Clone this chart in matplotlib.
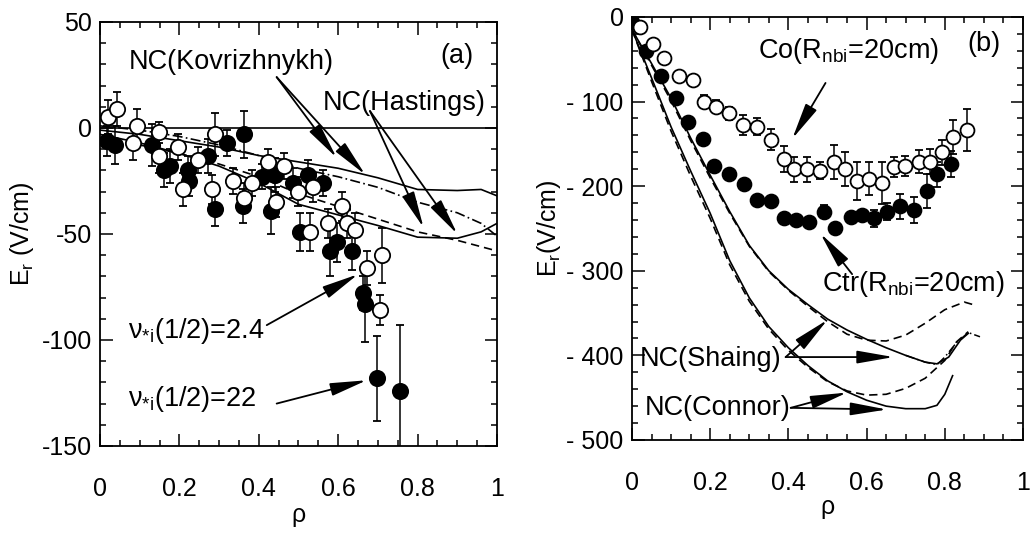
import matplotlib
matplotlib.use("Agg")
import matplotlib.pyplot as plt
from matplotlib.ticker import MultipleLocator

plt.rcParams["font.family"] = ["Liberation Sans", "DejaVu Sans"]
plt.rcParams["mathtext.fontset"] = "custom"
plt.rcParams["mathtext.rm"] = "Liberation Sans"
plt.rcParams["mathtext.it"] = "Liberation Sans:italic"
plt.rcParams["axes.unicode_minus"] = False

# panel (a): Er profiles, two collisionalities
a_open_x = [0.021, 0.042, 0.084, 0.094, 0.148, 0.149, 0.197, 0.21, 0.246, 0.283, 0.29,
            0.336, 0.364, 0.382, 0.424, 0.443, 0.464, 0.5, 0.529, 0.537, 0.575, 0.609,
            0.621, 0.642, 0.672, 0.705, 0.71]
a_open_y = [5, 9, -7, 1, -13, -2, -9, -29, -15, -29, -3, -25, -33, -26, -16, -35, -18,
            -30, -49, -28, -45, -37, -45, -48, -66, -86, -60]
a_open_err = [8, 8, 8, 8, 8, 5, 6, 8, 6, 7, 10, 6, 7, 6, 6, 7, 6, 7, 9, 7, 7, 7, 7, 8,
              8, 7, 13]

a_full_x = [0.017, 0.038, 0.13, 0.16, 0.176, 0.222, 0.225, 0.273, 0.29, 0.319, 0.364,
            0.361, 0.407, 0.432, 0.44, 0.487, 0.525, 0.562, 0.504, 0.58, 0.596, 0.634,
            0.663, 0.668, 0.697, 0.756]
a_full_y = [-6, -8, -8, -20, -18, -20, -25, -13, -38, -7, -3, -37, -23, -39, -22, -26,
            -22, -26, -49, -58, -54, -58, -78, -83, -118, -124]
a_full_err = [7, 9, 10, 8, 8, 7, 7, 8, 8, 6, 11, 8, 6, 11, 8, 7, 7, 6, 9, 12, 9, 9, 8,
              18, 20, 31]

a_nc_x = [0, 0.1, 0.2, 0.3, 0.4, 0.5, 0.6, 0.7, 0.8, 0.9, 0.96, 1.0]
kov_solid = [-1, -3, -6, -9, -13, -16, -19, -23.5, -29, -29.5, -29, -32]
kov_dashdot = [1, -1, -4, -8, -13, -19, -23, -28, -35, -40, -45, -51]
has_solid = [-3, -7, -12, -18, -26, -36, -41, -46, -51.5, -52, -49, -45]
has_dashed = [-5, -8, -12, -17, -23, -31, -37, -43, -49, -53, -56, -58]

# panel (b): Co / Ctr injection
b_open_x = [0.02, 0.053, 0.083, 0.121, 0.155, 0.185, 0.216, 0.249, 0.283, 0.321, 0.355,
            0.389, 0.414, 0.448, 0.482, 0.516, 0.546, 0.576, 0.605, 0.639, 0.669, 0.699,
            0.733, 0.762, 0.792, 0.822, 0.856]
b_open_y = [-12, -32, -48, -70, -75, -100, -106, -114, -128, -130, -145, -168, -180,
            -180, -182, -171, -180, -194, -191, -196, -177, -176, -171, -171, -160, -142,
            -134]
b_open_err = [0, 0, 0, 4, 5, 8, 8, 8, 12, 10, 12, 15, 15, 15, 10, 20, 20, 22, 20, 25,
              12, 12, 14, 15, 15, 20, 25]

b_full_x = [0.0, 0.037, 0.075, 0.113, 0.143, 0.181, 0.211, 0.249, 0.287, 0.321, 0.355,
            0.389, 0.419, 0.452, 0.491, 0.52, 0.559, 0.588, 0.618, 0.652, 0.686, 0.72,
            0.754, 0.779, 0.817]
b_full_y = [-6, -40, -70, -96, -124, -144, -176, -186, -198, -216, -218, -238, -240,
            -242, -230, -250, -236, -234, -238, -230, -224, -228, -206, -186, -174]
b_full_err = [0, 0, 0, 0, 0, 0, 0, 0, 0, 0, 0, 0, 0, 0, 8, 0, 0, 0, 10, 10, 15, 15, 20,
              15, 15]

sh_x = [0, 0.05, 0.1, 0.15, 0.2, 0.25, 0.3, 0.35, 0.4, 0.45, 0.5, 0.55, 0.6, 0.65, 0.7,
        0.75, 0.78, 0.81, 0.84, 0.86]
sh_solid = [-15, -55, -96, -143, -187, -230, -270, -300, -322, -340, -357, -370, -381,
            -391, -400, -408, -410, -402, -382, -374]
sh_dash_x = [0, 0.05, 0.1, 0.15, 0.2, 0.25, 0.3, 0.35, 0.4, 0.45, 0.5, 0.55, 0.6, 0.65,
             0.7, 0.75, 0.8, 0.85, 0.88]
sh_dash = [-15, -57, -99, -146, -190, -232, -271, -301, -323, -342, -360, -375, -382,
           -383, -376, -362, -346, -337, -341]
sh_dd_x = [0.7, 0.75, 0.78, 0.8, 0.83, 0.86, 0.89]
sh_dd = [-400, -408, -411, -402, -385, -373, -378]

co_x = [0, 0.05, 0.1, 0.15, 0.2, 0.25, 0.3, 0.35, 0.4, 0.45, 0.5, 0.55, 0.6, 0.65, 0.7,
        0.75, 0.78, 0.8, 0.82]
co_solid = [-15, -72, -130, -182, -232, -288, -332, -366, -391, -412, -430, -443, -453,
            -460, -463, -463, -459, -446, -424]
co_dash_x = [0, 0.05, 0.1, 0.15, 0.2, 0.25, 0.3, 0.35, 0.4, 0.45, 0.5, 0.55, 0.6, 0.65,
             0.7, 0.75, 0.8, 0.83, 0.86]
co_dash = [-15, -76, -135, -188, -238, -293, -336, -369, -394, -414, -431, -442, -447,
           -446, -439, -427, -406, -384, -372]

fig = plt.figure(figsize=(10.35, 5.35), dpi=100)
ax1 = fig.add_axes([0.0966, 0.1664, 0.3836, 0.7925])
ax2 = fig.add_axes([0.6106, 0.1776, 0.3778, 0.7907])

FS = 19.5   # annotations
TS = 18     # tick labels
mk = dict(ms=11, mec="k", mew=1.3, ls="none", ecolor="k", elinewidth=1.1, capsize=3)


def style(ax):
    ax.tick_params(which="both", direction="in", top=True, right=True, labelsize=TS,
                   width=1.1)
    ax.tick_params(which="major", length=9)
    ax.tick_params(which="minor", length=4.5)
    ax.tick_params(axis="x", which="major", pad=22)
    ax.tick_params(axis="y", which="major", pad=6)
    for s in ax.spines.values():
        s.set_linewidth(1.3)


def arrow(ax, start, end):
    ax.annotate("", xy=end, xytext=start,
                arrowprops=dict(arrowstyle="-|>,head_length=0.8,head_width=0.14",
                                lw=1.3, color="k", shrinkA=0, shrinkB=0,
                                mutation_scale=28))


# ---- (a)
ax = ax1
ax.axhline(0, color="k", lw=1.2)
ax.plot(a_nc_x, kov_solid, "k-", lw=1.2)
ax.plot(a_nc_x, kov_dashdot, "k", ls=(0, (6, 2, 1, 2)), lw=1.2)
ax.plot(a_nc_x, has_solid, "k-", lw=1.2)
ax.plot(a_nc_x, has_dashed, "k--", lw=1.2, dashes=(5, 3))
ax.errorbar(a_full_x, a_full_y, yerr=a_full_err, fmt="o", mfc="k", **mk)
ax.errorbar(a_open_x, a_open_y, yerr=a_open_err, fmt="o", mfc="white", **mk)
ax.set_xlim(0, 1)
ax.set_ylim(-150, 50)
ax.xaxis.set_minor_locator(MultipleLocator(0.05))
ax.yaxis.set_major_locator(MultipleLocator(50))
ax.yaxis.set_minor_locator(MultipleLocator(10))
ax.set_xticks([0, 0.2, 0.4, 0.6, 0.8, 1.0], ["0", "0.2", "0.4", "0.6", "0.8", "1"])
style(ax)
ax.set_xlabel("ρ", fontsize=TS, labelpad=2)
ax.set_ylabel(r"E$_\mathregular{r}$ (V/cm)", fontsize=TS, labelpad=4)

ax.text(0.9, 34, "(a)", fontsize=FS, ha="center", va="center")
ax.text(0.33, 31, "NC(Kovrizhnykh)", fontsize=FS, ha="center", va="center")
arrow(ax, (0.445, 24), (0.596, -14))
arrow(ax, (0.445, 24), (0.668, -22))
ax.text(0.765, 12, "NC(Hastings)", fontsize=FS, ha="center", va="center")
arrow(ax, (0.68, 8), (0.815, -47))
arrow(ax, (0.68, 8), (0.9, -50))
ax.text(0.07, -96, r"$\mathregular{\nu_{*i}}$(1/2)=2.4", fontsize=FS, ha="left",
        va="center")
arrow(ax, (0.42, -93), (0.65, -69))
ax.text(0.07, -128, r"$\mathregular{\nu_{*i}}$(1/2)=22", fontsize=FS, ha="left",
        va="center")
arrow(ax, (0.445, -130), (0.672, -119))

# ---- (b)
ax = ax2
ax.plot(sh_x, sh_solid, "k-", lw=1.2)
ax.plot(sh_dash_x, sh_dash, "k--", lw=1.2, dashes=(5, 3))
ax.plot(sh_dd_x, sh_dd, "k", ls=(0, (6, 2, 1, 2)), lw=1.1)
ax.plot(co_x, co_solid, "k-", lw=1.2)
ax.plot(co_dash_x, co_dash, "k--", lw=1.2, dashes=(5, 3))
mk2 = dict(mk, ms=10)
ax.errorbar(b_full_x, b_full_y, yerr=b_full_err, fmt="o", mfc="k", **mk2)
ax.errorbar(b_open_x, b_open_y, yerr=b_open_err, fmt="o", mfc="white", **mk2)
ax.set_xlim(0, 1)
ax.set_ylim(-500, 0)
ax.xaxis.set_minor_locator(MultipleLocator(0.05))
ax.yaxis.set_minor_locator(MultipleLocator(20))
ax.set_xticks([0, 0.2, 0.4, 0.6, 0.8, 1.0], ["0", "0.2", "0.4", "0.6", "0.8", "1"])
ax.set_yticks([0, -100, -200, -300, -400, -500],
              ["0", "- 100", "- 200", "- 300", "- 400", "- 500"])
style(ax)
ax.set_xlabel("ρ", fontsize=TS, labelpad=0)
ax.set_ylabel(r"E$_\mathregular{r}$(V/cm)", fontsize=TS, labelpad=2)

ax.text(0.9, -32, "(b)", fontsize=FS, ha="center", va="center")
ax.text(0.555, -40, r"Co(R$_\mathregular{nbi}$=20cm)", fontsize=FS, ha="center",
        va="center")
arrow(ax, (0.495, -78), (0.41, -144))
ax.text(0.72, -316, r"Ctr(R$_\mathregular{nbi}$=20cm)", fontsize=FS, ha="center",
        va="center")
arrow(ax, (0.563, -304), (0.482, -256))
ax.text(0.2, -404, "NC(Shaing)", fontsize=FS, ha="center", va="center")
arrow(ax, (0.393, -402), (0.5, -358))
arrow(ax, (0.393, -402), (0.669, -402))
ax.text(0.22, -462, "NC(Connor)", fontsize=FS, ha="center", va="center")
arrow(ax, (0.406, -462), (0.55, -444))
arrow(ax, (0.406, -462), (0.652, -464))

fig.savefig("out.png", dpi=100)
